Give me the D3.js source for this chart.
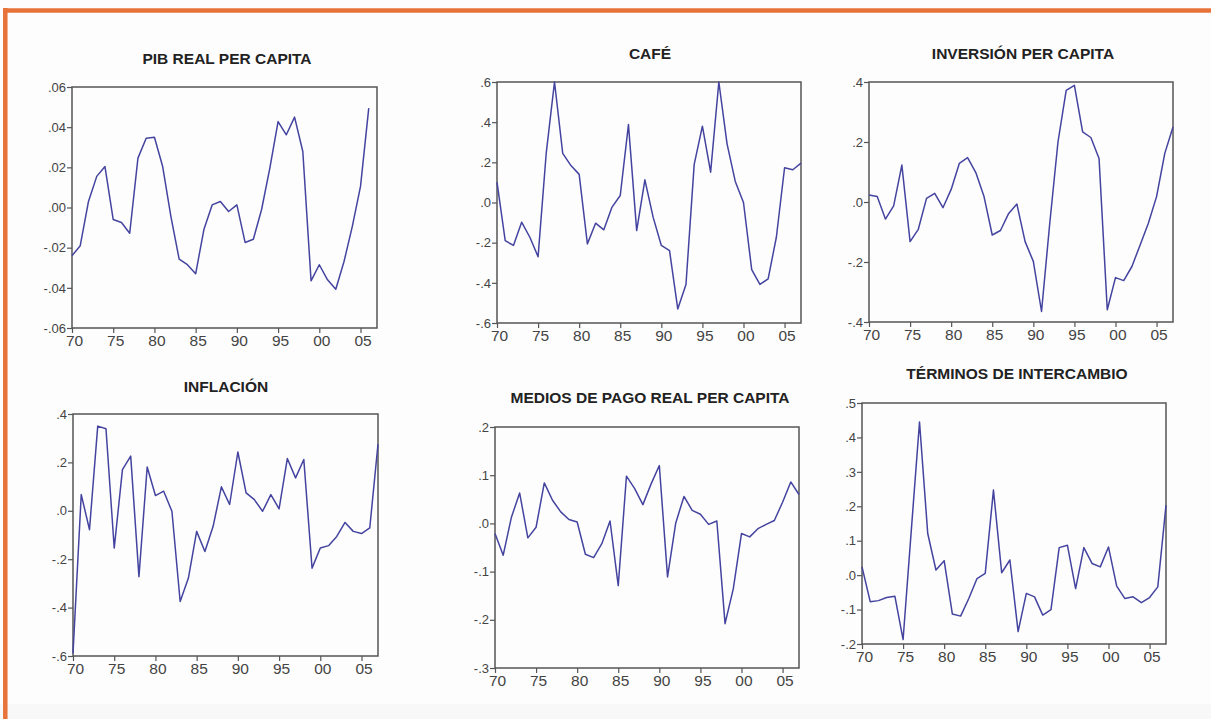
<!DOCTYPE html>
<html>
<head>
<meta charset="utf-8">
<script src="https://cdn.jsdelivr.net/npm/d3@7"></script>
<style>
  body { margin: 0; background: #fdfdfd; }
  svg { display: block; }
  .title { font-family: "Liberation Sans", Arial, sans-serif; font-weight: bold; font-size: 15.5px; fill: #222; }
  .ylab { font-family: "Liberation Sans", Arial, sans-serif; font-size: 13px; fill: #444; }
  .xlab { font-family: "Liberation Sans", Arial, sans-serif; font-size: 15.5px; fill: #444; }
</style>
</head>
<body>
<svg id="chart" width="1211" height="719"></svg>
<script>
// years 1970..2007
let years = d3.range(1970, 2008);

let pib = [-0.024, -0.019, 0.003, 0.0155, 0.0204, -0.006, -0.0075, -0.0128, 0.0246, 0.0345,
  0.035, 0.0204, -0.0045, -0.0257, -0.0285, -0.033, -0.011, 0.0013, 0.003, -0.002,
  0.0013, -0.0174, -0.0158, -0.001, 0.0196, 0.0428, 0.0362, 0.045, 0.0279, -0.0365,
  -0.0285, -0.036, -0.0407, -0.0269, -0.0095, 0.0105, 0.0495];

let cafe = [0.101, -0.19, -0.214, -0.098, -0.173, -0.27, 0.25, 0.6, 0.245, 0.184,
  0.14, -0.206, -0.103, -0.136, -0.023, 0.035, 0.388, -0.14, 0.113, -0.073,
  -0.214, -0.24, -0.53, -0.408, 0.19, 0.38, 0.151, 0.6, 0.292, 0.105,
  0.0, -0.334, -0.408, -0.38, -0.173, 0.173, 0.163, 0.196];

let inversion = [0.023, 0.018, -0.057, -0.013, 0.123, -0.132, -0.091, 0.012, 0.029, -0.019,
  0.042, 0.129, 0.148, 0.098, 0.018, -0.11, -0.095, -0.038, -0.007, -0.132,
  -0.198, -0.365, -0.071, 0.2, 0.372, 0.389, 0.234, 0.215, 0.145, -0.359,
  -0.252, -0.262, -0.215, -0.143, -0.071, 0.018, 0.162, 0.25];

let inflacion = [-0.589, 0.067, -0.078, 0.35, 0.339, -0.154, 0.17, 0.226, -0.272, 0.181,
  0.063, 0.081, -0.002, -0.375, -0.278, -0.085, -0.168, -0.064, 0.099, 0.026,
  0.243, 0.074, 0.046, -0.002, 0.067, 0.008, 0.216, 0.136, 0.212, -0.237,
  -0.154, -0.144, -0.106, -0.048, -0.085, -0.094, -0.071, 0.275];

let medios = [-0.021, -0.066, 0.013, 0.063, -0.03, -0.008, 0.084, 0.048, 0.024, 0.008,
  0.003, -0.064, -0.071, -0.042, 0.005, -0.129, 0.098, 0.072, 0.039, 0.082,
  0.12, -0.111, 0.001, 0.056, 0.027, 0.019, -0.002, 0.005, -0.208, -0.136,
  -0.021, -0.028, -0.011, -0.002, 0.006, 0.044, 0.086, 0.06];

let terminos = [0.024, -0.077, -0.074, -0.065, -0.061, -0.187, 0.13, 0.445, 0.121, 0.015,
  0.042, -0.113, -0.119, -0.068, -0.01, 0.005, 0.247, 0.007, 0.044, -0.164,
  -0.053, -0.063, -0.116, -0.1, 0.08, 0.087, -0.039, 0.08, 0.034, 0.024,
  0.082, -0.032, -0.068, -0.063, -0.08, -0.065, -0.034, 0.203];

let titles = ["PIB REAL PER CAPITA", "CAFÉ", "INVERSIÓN PER CAPITA",
  "INFLACIÓN", "MEDIOS DE PAGO REAL PER CAPITA", "TÉRMINOS DE INTERCAMBIO"];
let yDomains = [[-0.06, 0.06], [-0.6, 0.6], [-0.4, 0.4], [-0.6, 0.4], [-0.3, 0.2], [-0.2, 0.5]];
let yStep = [0.02, 0.2, 0.2, 0.2, 0.1, 0.1];
let yDecimals = [2, 1, 1, 1, 1, 1];
let xTicks = [1970, 1975, 1980, 1985, 1990, 1995, 2000, 2005];

// plot boxes: left, top, right, bottom + title position
let boxes = [
  {l: 72, t: 87, r: 377, b: 328, tx: 227, ty: 64},
  {l: 497, t: 82, r: 801, b: 323, tx: 650, ty: 59},
  {l: 869, t: 82, r: 1173, b: 322, tx: 1023, ty: 59},
  {l: 73, t: 414, r: 378, b: 656, tx: 226, ty: 392},
  {l: 495, t: 427, r: 799, b: 668, tx: 650, ty: 403},
  {l: 862, t: 403, r: 1166, b: 644, tx: 1017, ty: 379}
];

let series = [pib, cafe, inversion, inflacion, medios, terminos];

let svg = d3.select('#chart');

// frame
svg.append('rect').attr('x', 0).attr('y', 0).attr('width', 1211).attr('height', 719).attr('fill', '#fdfdfd');
svg.append('rect').attr('x', 0).attr('y', 704).attr('width', 1211).attr('height', 15).attr('fill', '#f8f8f8');
svg.append('line').attr('x1', 3).attr('x2', 1211).attr('y1', 10.5).attr('y2', 10.5)
   .attr('stroke', '#e8733a').attr('stroke-width', 4.5);
svg.append('line').attr('x1', 5.3).attr('x2', 5.3).attr('y1', 8).attr('y2', 719)
   .attr('stroke', '#e8733a').attr('stroke-width', 4.5);

function fmt(dec) {
  let f = d3.format('.' + dec + 'f');
  return function(v) {
    let s = f(Math.abs(v) < 1e-9 ? 0 : v).replace('\u2212', '-');
    return s.replace(/^(-?)0\./, '$1.');
  };
}

series.forEach(function(vals, i) {
  let bx = boxes[i];
  let x = d3.scaleLinear().domain([1970, 2007]).range([bx.l, bx.r]);
  let y = d3.scaleLinear().domain(yDomains[i]).range([bx.b, bx.t]);
  let g = svg.append('g');

  g.append('text').attr('class', 'title')
    .attr('x', bx.tx).attr('y', bx.ty)
    .attr('text-anchor', 'middle')
    .text(titles[i]);

  let yTicks = d3.range(yDomains[i][0], yDomains[i][1] + yStep[i] / 2, yStep[i]);

  let ya = d3.axisLeft(y).tickValues(yTicks).tickFormat(fmt(yDecimals[i])).tickSize(5).tickPadding(1);
  let yg = g.append('g').attr('transform', 'translate(' + bx.l + ',0)').call(ya);
  yg.select('.domain').remove();
  yg.selectAll('line').attr('stroke', '#555').attr('stroke-width', 1.2);
  yg.selectAll('text').attr('class', 'ylab').attr('fill', null).attr('font-size', null).attr('font-family', null);

  let xa = d3.axisBottom(x).tickValues(xTicks).tickFormat(function(d) { return String(d).slice(2); })
             .tickSize(5).tickPadding(2);
  let xg = g.append('g').attr('transform', 'translate(0,' + bx.b + ')').call(xa);
  xg.select('.domain').remove();
  xg.selectAll('line').attr('stroke', '#555').attr('stroke-width', 1.2);
  xg.selectAll('text').attr('class', 'xlab').attr('fill', null).attr('font-size', null).attr('font-family', null)
    .attr('dx', 2);

  g.append('rect')
    .attr('x', bx.l).attr('y', bx.t)
    .attr('width', bx.r - bx.l).attr('height', bx.b - bx.t)
    .attr('fill', 'none').attr('stroke', '#555').attr('stroke-width', 1.5);

  let line = d3.line()
    .x(function(d, j) { return x(years[j]); })
    .y(function(d) { return y(d); });

  g.append('path')
    .datum(vals)
    .attr('d', line)
    .attr('fill', 'none')
    .attr('stroke', '#4444a0')
    .attr('stroke-width', 1.5)
    .attr('stroke-linejoin', 'round');
});
</script>
</body>
</html>
